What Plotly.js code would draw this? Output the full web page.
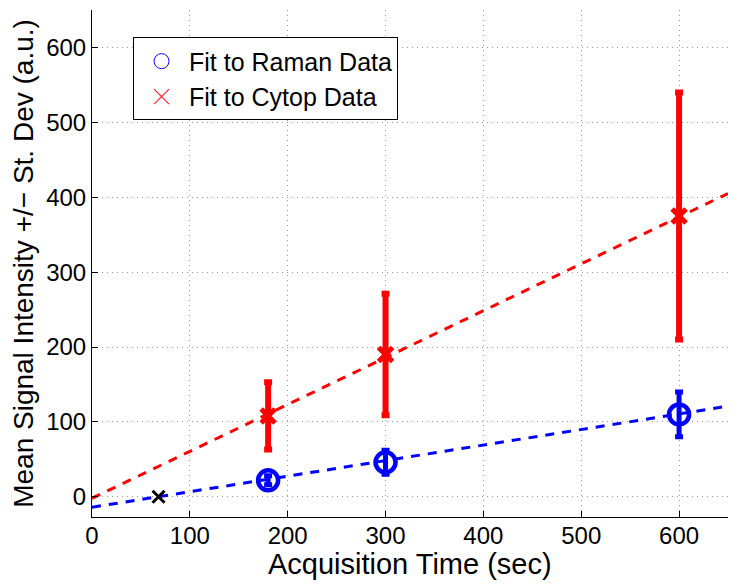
<!DOCTYPE html>
<html><head><meta charset="utf-8">
<script src="https://cdn.plot.ly/plotly-3.0.1.min.js"></script>
<style>body{margin:0;background:#fff}#c{width:738px;height:587px}</style>
</head><body><div id="c"></div>
<script>
const timeX = [180, 300, 600];
const ramanMean = [22, 46, 110];
const ramanSd = [6, 16, 30];
const cytopMean = [108, 190, 375];
const cytopSd = [45, 81, 165];
const ramanFitX = [0, 650];
const ramanFitY = [-14, 121];
const cytopFitX = [0, 650];
const cytopFitY = [-2, 405];
const outlierX = [68];
const outlierY = [0];
const tickVals = [0, 100, 200, 300, 400, 500, 600];
const xTitle = 'Acquisition Time (sec)';
const yTitle = 'Mean Signal Intensity +/\u2212 St. Dev (a.u.)';

const font = 'Liberation Sans, Arial, sans-serif';
const traces = [
  {x: ramanFitX, y: ramanFitY, mode: 'lines', line: {color: '#0000ff', width: 3, dash: '9px,8px'}, showlegend: false, hoverinfo: 'skip'},
  {x: cytopFitX, y: cytopFitY, mode: 'lines', line: {color: '#ff0000', width: 3, dash: '9px,8px'}, showlegend: false, hoverinfo: 'skip'},
  {x: timeX, y: ramanMean, mode: 'markers', showlegend: false,
   marker: {symbol: 'circle-open', size: 20, color: '#0000ff', line: {width: 4.5, color: '#0000ff'}},
   error_y: {type: 'data', array: ramanSd, visible: true, color: '#0000ff', thickness: 5, width: 4}},
  {x: timeX, y: cytopMean, mode: 'markers', showlegend: false,
   marker: {symbol: 'x-thin-open', size: 14, color: '#ff0000', line: {width: 5, color: '#ff0000'}},
   error_y: {type: 'data', array: cytopSd, visible: true, color: '#ff0000', thickness: 6, width: 4}},
  {x: outlierX, y: outlierY, mode: 'markers', showlegend: false,
   marker: {symbol: 'x-thin-open', size: 12, color: '#000', line: {width: 3, color: '#000'}}},
  {x: [null], y: [null], mode: 'markers', name: 'Fit to Raman Data',
   marker: {symbol: 'circle-open', size: 15, color: '#0000ff', line: {width: 1, color: '#0000ff'}}},
  {x: [null], y: [null], mode: 'markers', name: 'Fit to Cytop Data',
   marker: {symbol: 'x-thin', size: 15, color: '#ff0000', line: {width: 1.2, color: '#ff2020'}}}
];
const layout = {
  width: 738, height: 587,
  margin: {l: 92, r: 10, t: 10, b: 70},
  paper_bgcolor: '#fff', plot_bgcolor: '#fff',
  font: {family: font, color: '#000'},
  showlegend: true,
  legend: {x: 0.0645, y: 0.946, xanchor: 'left', yanchor: 'top', bgcolor: '#fff',
           bordercolor: '#000', borderwidth: 1, font: {size: 25, family: font},
           itemwidth: 45, tracegroupgap: 0},
  xaxis: {range: [0, 650], tickvals: tickVals, ticks: 'inside', ticklen: 6, tickcolor: '#000',
          showline: true, linecolor: '#000', linewidth: 1, mirror: false, ticklabelstandoff: -3,
          showgrid: true, gridcolor: '#999', griddash: '1px,4px', gridwidth: 1, zeroline: false,
          tickfont: {size: 24}},
  yaxis: {range: [-27, 650], tickvals: tickVals, ticks: 'inside', ticklen: 6, tickcolor: '#000',
          showline: true, linecolor: '#000', linewidth: 1, mirror: false,
          showgrid: true, gridcolor: '#999', griddash: '1px,4px', gridwidth: 1, zeroline: false,
          tickfont: {size: 24}, title: {text: yTitle, font: {size: 28}, standoff: 4}},
  annotations: [
    {text: xTitle, xref: 'paper', yref: 'paper', x: 0.5, y: -0.092, xanchor: 'center', yanchor: 'middle',
     showarrow: false, font: {size: 29, family: font}}
  ]
};
Plotly.newPlot('c', traces, layout, {displayModeBar: false, staticPlot: true});
</script></body></html>
